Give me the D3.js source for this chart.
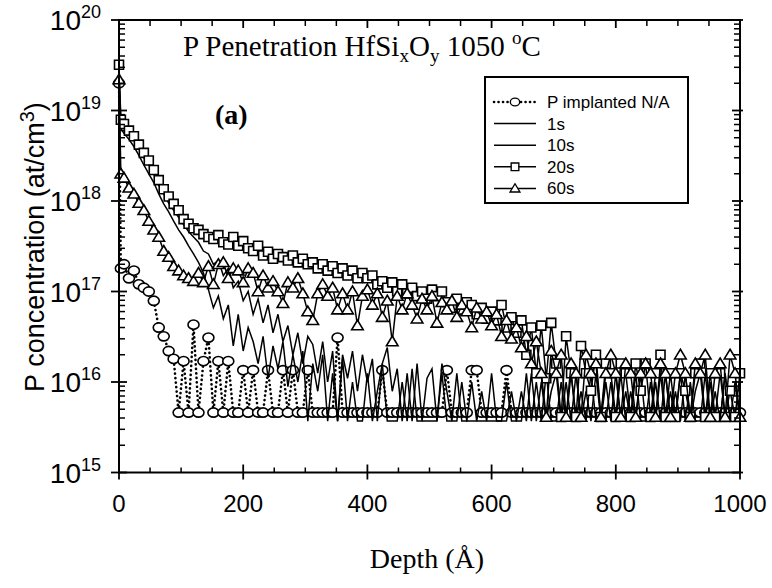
<!DOCTYPE html>
<html>
<head>
<meta charset="utf-8">
<script src="https://cdn.jsdelivr.net/npm/d3@7"></script>
<style>
  body { margin: 0; background: #fff; }
  svg { display: block; }
  .sans { font-family: Arial, "Liberation Sans", sans-serif; }
  .serif { font-family: "Times New Roman", "Liberation Serif", serif; }
</style>
</head>
<body>
<svg id="chart" width="772" height="588"></svg>
<script>
// Sputter depth of each SIMS data point (Å)
const depth = [
  0, 3, 8, 16, 24, 32, 40, 48, 56, 64,
  72, 80, 88, 96, 104, 112, 120, 128, 136, 144,
  152, 160, 168, 176, 184, 192, 200, 208, 216, 224,
  232, 240, 248, 256, 264, 272, 280, 288, 296, 304,
  312, 320, 328, 336, 344, 352, 360, 368, 376, 384,
  392, 400, 408, 416, 424, 432, 440, 448, 456, 464,
  472, 480, 488, 496, 504, 512, 520, 528, 536, 544,
  552, 560, 568, 576, 584, 592, 600, 608, 616, 624,
  632, 640, 648, 656, 664, 672, 680, 688, 696, 704,
  712, 720, 728, 736, 744, 752, 760, 768, 776, 784,
  792, 800, 808, 816, 824, 832, 840, 848, 856, 864,
  872, 880, 888, 896, 904, 912, 920, 928, 936, 944,
  952, 960, 968, 976, 984, 992, 1000
];

// P concentration (at/cm^3) — as implanted, no anneal
const implanted = [
  2.0e19, 1.8e17, 2.0e17, 1.4e17, 1.7e17, 1.2e17, 1.1e17, 1.0e17, 7.9e16, 4.0e16,
  3.2e16, 2.2e16, 1.8e16, 4.6e15, 1.7e16, 4.6e15, 4.3e16, 4.6e15, 1.7e16, 3.1e16,
  4.6e15, 1.7e16, 4.6e15, 1.7e16, 4.6e15, 4.6e15, 1.35e16, 4.6e15, 1.35e16, 4.6e15,
  4.6e15, 1.35e16, 4.6e15, 4.6e15, 1.35e16, 4.6e15, 1.35e16, 4.6e15, 4.6e15, 1.35e16,
  4.6e15, 4.6e15, 4.6e15, 4.6e15, 4.6e15, 3.1e16, 4.6e15, 4.6e15, 4.6e15, 4.6e15,
  4.6e15, 4.6e15, 4.6e15, 4.6e15, 1.35e16, 4.6e15, 4.6e15, 4.6e15, 4.6e15, 4.6e15,
  4.6e15, 4.6e15, 4.6e15, 4.6e15, 4.6e15, 4.6e15, 4.6e15, 1.35e16, 4.6e15, 4.6e15,
  4.6e15, 4.6e15, 1.35e16, 1.35e16, 4.6e15, 4.6e15, 4.6e15, 4.6e15, 4.6e15, 1.35e16,
  4.6e15, 4.6e15, 4.6e15, 4.6e15, 4.6e15, 4.6e15, 4.6e15, 4.6e15, 4.6e15, 4.6e15,
  4.6e15, 4.6e15, 4.6e15, 4.6e15, 4.6e15, 4.6e15, 4.6e15, 4.6e15, 4.6e15, 4.6e15,
  4.6e15, 4.6e15, 4.6e15, 4.6e15, 4.6e15, 4.6e15, 4.6e15, 4.6e15, 4.6e15, 4.6e15,
  4.6e15, 4.6e15, 4.6e15, 4.6e15, 4.6e15, 4.6e15, 4.6e15, 4.6e15, 4.6e15, 4.6e15,
  4.6e15, 4.6e15, 4.6e15, 4.6e15, 4.6e15, 4.6e15, 4.6e15
];

// 1050 °C anneal, 1 s
const anneal1s = [
  2.0e19, 6.3e18, 5.6e18, 4.8e18, 4.0e18, 3.2e18, 2.5e18, 2.0e18, 1.6e18, 1.2e18,
  9.3e17, 7.6e17, 6.0e17, 4.8e17, 4.0e17, 3.2e17, 2.6e17, 2.1e17, 1.6e17, 1.05e17,
  6.6e16, 8.9e16, 5.0e16, 7.1e16, 2.5e16, 5.6e16, 2.2e16, 4.0e16, 2.8e16, 1.6e16,
  3.2e16, 1.1e16, 2.5e16, 1.4e16, 2.8e16, 8.9e15, 2.0e16, 1.0e16, 2.2e16, 3.7e15,
  1.6e16, 7.9e15, 2.0e16, 3.7e15, 1.25e16, 3.7e15, 1.8e16, 3.7e15, 1.0e16, 3.7e15,
  3.7e15, 1.25e16, 3.7e15, 7.9e15, 1.6e16, 3.7e15, 3.7e15, 3.7e15, 1.0e16, 3.7e15,
  1.4e16, 3.7e15, 3.7e15, 3.7e15, 3.7e15, 3.7e15, 1.25e16, 3.7e15, 3.7e15, 3.7e15,
  1.0e16, 3.7e15, 3.7e15, 3.7e15, 3.7e15, 3.7e15, 3.7e15, 3.7e15, 3.7e15, 3.7e15,
  7.9e15, 3.7e15, 3.7e15, 1.25e16, 3.7e15, 1.0e16, 3.7e15, 1.25e16, 3.7e15, 3.7e15,
  1.0e16, 3.7e15, 1.25e16, 3.7e15, 7.9e15, 3.7e15, 1.25e16, 3.7e15, 3.7e15, 1.0e16,
  3.7e15, 1.25e16, 3.7e15, 7.9e15, 3.7e15, 1.25e16, 3.7e15, 3.7e15, 1.0e16, 3.7e15,
  1.25e16, 3.7e15, 7.9e15, 3.7e15, 1.25e16, 3.7e15, 1.0e16, 3.7e15, 3.7e15, 1.25e16,
  3.7e15, 7.9e15, 3.7e15, 1.25e16, 3.7e15, 3.7e15, 3.7e15
];

// 1050 °C anneal, 10 s
const anneal10s = [
  2.5e19, 7.6e18, 6.6e18, 5.6e18, 4.7e18, 3.8e18, 3.0e18, 2.5e18, 2.0e18, 1.5e18,
  1.2e18, 9.5e17, 7.9e17, 6.6e17, 5.5e17, 4.6e17, 4.0e17, 3.5e17, 2.8e17, 2.6e17,
  2.0e17, 2.2e17, 1.5e17, 1.8e17, 1.1e17, 1.3e17, 7.9e16, 1.0e17, 5.6e16, 8.3e16,
  4.5e16, 7.1e16, 3.5e16, 5.6e16, 2.8e16, 4.2e16, 2.0e16, 3.5e16, 1.6e16, 3.2e16,
  2.6e16, 1.25e16, 2.8e16, 1.0e16, 2.2e16, 3.7e15, 2.0e16, 1.1e16, 2.2e16, 7.9e15,
  2.0e16, 1.0e16, 1.8e16, 3.7e15, 1.6e16, 2.4e16, 7.9e15, 1.4e16, 3.7e15, 1.25e16,
  3.7e15, 1.6e16, 3.7e15, 1.1e16, 1.4e16, 3.7e15, 1.6e16, 7.9e15, 3.7e15, 1.25e16,
  3.7e15, 3.7e15, 1.0e16, 3.7e15, 7.9e15, 3.7e15, 1.25e16, 3.7e15, 3.7e15, 1.0e16,
  3.7e15, 3.7e15, 7.9e15, 3.7e15, 1.25e16, 3.7e15, 1.0e16, 3.7e15, 7.9e15, 1.25e16,
  3.7e15, 1.0e16, 3.7e15, 1.25e16, 3.7e15, 7.9e15, 3.7e15, 1.25e16, 3.7e15, 3.7e15,
  1.0e16, 3.7e15, 1.25e16, 3.7e15, 7.9e15, 3.7e15, 1.25e16, 3.7e15, 3.7e15, 1.0e16,
  3.7e15, 1.25e16, 3.7e15, 7.9e15, 3.7e15, 1.25e16, 3.7e15, 7.9e15, 1.25e16, 3.7e15,
  1.0e16, 3.7e15, 3.7e15, 1.25e16, 3.7e15, 1.0e16, 3.7e15
];

// 1050 °C anneal, 20 s
const anneal20s = [
  3.2e19, 7.9e18, 7.1e18, 6.0e18, 5.2e18, 4.2e18, 3.4e18, 2.8e18, 2.2e18, 1.7e18,
  1.35e18, 1.12e18, 9.3e17, 7.9e17, 6.3e17, 5.6e17, 5.0e17, 4.8e17, 4.3e17, 4.0e17,
  3.8e17, 4.2e17, 3.5e17, 3.3e17, 4.0e17, 3.2e17, 3.6e17, 3.0e17, 2.8e17, 3.2e17,
  2.5e17, 2.75e17, 2.3e17, 2.6e17, 2.4e17, 2.2e17, 2.5e17, 2.1e17, 2.3e17, 2.0e17,
  2.1e17, 1.8e17, 2.0e17, 1.7e17, 1.9e17, 1.6e17, 1.8e17, 1.5e17, 1.7e17, 1.4e17,
  1.6e17, 1.4e17, 1.5e17, 1.2e17, 1.3e17, 1.1e17, 1.26e17, 1.0e17, 1.2e17, 9.5e16,
  1.1e17, 8.9e16, 1.0e17, 8.3e16, 1.05e17, 8.9e16, 1.0e17, 7.6e16, 6.6e16, 8.3e16,
  6.3e16, 7.6e16, 7.1e16, 5.6e16, 6.6e16, 5.0e16, 6.0e16, 4.8e16, 7.1e16, 4.0e16,
  5.2e16, 3.5e16, 4.8e16, 2.0e16, 4.0e16, 1.25e16, 4.2e16, 1.1e16, 4.5e16, 1.6e16,
  4.1e15, 3.2e16, 1.25e16, 4.1e15, 2.5e16, 1.25e16, 8.0e15, 2.0e16, 4.1e15, 1.6e16,
  1.25e16, 4.1e15, 1.6e16, 1.25e16, 4.1e15, 1.6e16, 8.0e15, 1.6e16, 4.1e15, 1.25e16,
  2.0e16, 4.1e15, 1.25e16, 4.1e15, 1.25e16, 8.0e15, 4.1e15, 1.25e16, 1.6e16, 4.1e15,
  1.25e16, 4.1e15, 1.25e16, 4.1e15, 8.0e15, 4.1e15, 1.25e16
];

// 1050 °C anneal, 60 s
const anneal60s = [
  2.2e19, 2.0e18, 1.8e18, 1.4e18, 1.2e18, 9.5e17, 7.9e17, 6.0e17, 4.8e17, 4.0e17,
  2.8e17, 2.4e17, 1.9e17, 1.7e17, 1.5e17, 1.4e17, 1.3e17, 1.6e17, 1.26e17, 1.9e17,
  1.2e17, 2.0e17, 2.1e17, 1.4e17, 1.8e17, 1.7e17, 1.26e17, 1.8e17, 1.6e17, 1.0e17,
  1.5e17, 1.1e17, 1.3e17, 1.0e17, 7.4e16, 1.26e17, 1.1e17, 1.4e17, 9.5e16, 6.0e16,
  4.8e16, 9.5e16, 1.2e17, 8.9e16, 1.1e17, 6.3e16, 9.5e16, 6.3e16, 1.0e17, 4.2e16,
  8.9e16, 1.05e17, 7.1e16, 9.5e16, 5.2e16, 7.9e16, 2.8e16, 8.9e16, 6.3e16, 9.5e16,
  7.1e16, 5.0e16, 8.3e16, 6.3e16, 8.9e16, 4.5e16, 7.6e16, 6.3e16, 7.9e16, 5.2e16,
  7.1e16, 6.0e16, 4.0e16, 6.6e16, 5.0e16, 6.0e16, 4.2e16, 5.6e16, 3.2e16, 4.8e16,
  3.0e16, 4.0e16, 2.4e16, 3.2e16, 1.6e16, 2.8e16, 1.25e16, 4.1e15, 2.2e16, 1.25e16,
  2.0e16, 4.1e15, 1.6e16, 1.25e16, 4.1e15, 2.0e16, 1.25e16, 1.6e16, 4.1e15, 1.25e16,
  2.0e16, 1.25e16, 4.1e15, 1.6e16, 1.25e16, 4.1e15, 1.25e16, 1.6e16, 1.25e16, 4.1e15,
  1.6e16, 1.25e16, 4.1e15, 1.25e16, 2.0e16, 1.25e16, 4.1e15, 1.6e16, 1.25e16, 2.0e16,
  4.1e15, 1.25e16, 1.6e16, 4.1e15, 2.0e16, 1.25e16, 4.1e15
];

const seriesNames = ["P implanted N/A", "1s", "10s", "20s", "60s"];
const xTickValues = [0, 200, 400, 600, 800, 1000];
const yTickExponents = [15, 16, 17, 18, 19, 20];

const svg = d3.select("#chart");
const x = d3.scaleLinear().domain([0, 1000]).range([119, 740]);
const y = d3.scaleLog().domain([1e15, 1e20]).range([472.5, 20]);

const x0 = x(0), x1 = x(1000), yb = y(1e15), yt = y(1e20);

// marker shapes, centred on the data point
const markerPath = {
  circle: "M-5.5,0a5.5,4.6 0 1,0 11,0a5.5,4.6 0 1,0 -11,0Z",
  square: "M-4.5,-4.5h9v9h-9Z",
  triangle: "M0,-5.5L5.8,4.2L-5.8,4.2Z"
};

const series = [
  { name: seriesNames[0], values: implanted, dotted: true, marker: "circle" },
  { name: seriesNames[1], values: anneal1s, dotted: false, marker: null },
  { name: seriesNames[2], values: anneal10s, dotted: false, marker: null },
  { name: seriesNames[3], values: anneal20s, dotted: false, marker: "square" },
  { name: seriesNames[4], values: anneal60s, dotted: false, marker: "triangle" }
];

const line = d3.line().x(d => x(d[0])).y(d => y(d[1]));

function styleLine(sel, dotted) {
  return sel.attr("fill", "none")
    .attr("stroke", "#000")
    .attr("stroke-width", dotted ? 2.6 : 1.5)
    .attr("stroke-dasharray", dotted ? "0.1 4.4" : null)
    .attr("stroke-linecap", dotted ? "round" : "butt");
}

const plot = svg.append("g");
series.forEach(s => {
  const pts = depth.map((d, i) => [d, s.values[i]]);
  const g = plot.append("g");
  styleLine(g.append("path").attr("d", line(pts)), s.dotted);
  if (s.marker) {
    g.selectAll("path.mk").data(pts).join("path")
      .attr("class", "mk")
      .attr("d", markerPath[s.marker])
      .attr("transform", d => `translate(${x(d[0])},${y(d[1])})`)
      .attr("fill", "#fff")
      .attr("stroke", "#000")
      .attr("stroke-width", 1.6);
  }
});

// frame
const axes = svg.append("g").attr("stroke", "#000");
axes.append("rect")
  .attr("x", x0).attr("y", yt).attr("width", x1 - x0).attr("height", yb - yt)
  .attr("fill", "none").attr("stroke-width", 2);

// x ticks (major crossing the bottom axis, minor inward; top axis inward)
const xMinor = x.ticks(25).filter(v => !xTickValues.includes(v));
xTickValues.forEach(v => {
  axes.append("line").attr("x1", x(v)).attr("x2", x(v)).attr("y1", yb + 7).attr("y2", yb - 8).attr("stroke-width", 1.8);
  axes.append("line").attr("x1", x(v)).attr("x2", x(v)).attr("y1", yt).attr("y2", yt + 8).attr("stroke-width", 1.8);
});
xMinor.forEach(v => {
  axes.append("line").attr("x1", x(v)).attr("x2", x(v)).attr("y1", yb).attr("y2", yb - 5).attr("stroke-width", 1.5);
  axes.append("line").attr("x1", x(v)).attr("x2", x(v)).attr("y1", yt).attr("y2", yt + 6).attr("stroke-width", 1.5);
});

// y ticks (log decades crossing the left axis, 2..9 minors inward)
const yMajor = yTickExponents.map(e => Math.pow(10, e));
const yMinor = y.ticks().filter(v => !yMajor.some(m => Math.abs(m - v) / m < 1e-9));
yMajor.forEach(v => {
  axes.append("line").attr("x1", x0 - 8).attr("x2", x0 + 8).attr("y1", y(v)).attr("y2", y(v)).attr("stroke-width", 1.8);
  axes.append("line").attr("x1", x1 - 8).attr("x2", x1 + 3).attr("y1", y(v)).attr("y2", y(v)).attr("stroke-width", 1.8);
});
yMinor.forEach(v => {
  axes.append("line").attr("x1", x0).attr("x2", x0 + 6).attr("y1", y(v)).attr("y2", y(v)).attr("stroke-width", 1.5);
  axes.append("line").attr("x1", x1 - 6).attr("x2", x1).attr("y1", y(v)).attr("y2", y(v)).attr("stroke-width", 1.5);
});

// x tick labels
svg.append("g").attr("class", "sans").attr("font-size", 24).attr("text-anchor", "middle")
  .selectAll("text").data(xTickValues).join("text")
  .attr("x", d => x(d)).attr("y", 512).text(d => d);

// y tick labels: 10 with the exponent raised
const yl = svg.append("g").attr("class", "sans").attr("text-anchor", "end")
  .selectAll("text").data(yTickExponents).join("text")
  .attr("x", 101).attr("y", d => y(Math.pow(10, d)) + 10).attr("font-size", 28);
yl.append("tspan").text("10");
yl.append("tspan").attr("font-size", 18).attr("dy", -12).text(d => d);

// axis titles
const yTitle = svg.append("text").attr("class", "sans").attr("font-size", 27)
  .attr("text-anchor", "middle")
  .attr("transform", "translate(44,247) rotate(-90)");
yTitle.append("tspan").text("P concentration (at/cm");
yTitle.append("tspan").attr("dy", -10).attr("font-size", 20).text("3");
yTitle.append("tspan").attr("dy", 10).text(")");

svg.append("text").attr("class", "serif").attr("font-size", 28)
  .attr("text-anchor", "middle").attr("x", 427).attr("y", 568)
  .text("Depth (Å)");

// title
const title = svg.append("text").attr("class", "serif").attr("font-size", 29)
  .attr("x", 183).attr("y", 56);
title.append("tspan").text("P Penetration HfSi");
title.append("tspan").attr("font-size", 19).attr("dy", 6).text("x");
title.append("tspan").attr("dy", -6).text("O");
title.append("tspan").attr("font-size", 19).attr("dy", 6).text("y");
title.append("tspan").attr("dy", -6).text(" 1050 ");
title.append("tspan").attr("font-size", 19).attr("dy", -12).text("o");
title.append("tspan").attr("dy", 12).text("C");

svg.append("text").attr("class", "serif").attr("font-size", 28).attr("font-weight", "bold")
  .attr("x", 215).attr("y", 124).text("(a)");

// legend
const lg = svg.append("g");
const rowY = i => 102 + i * 21.6;
lg.append("rect").attr("x", 485).attr("y", 77).attr("width", 203).attr("height", 126)
  .attr("fill", "#fff").attr("stroke", "#000").attr("stroke-width", 2);
series.forEach((s, i) => {
  const yy = rowY(i);
  styleLine(lg.append("line").attr("x1", 494).attr("x2", 536).attr("y1", yy).attr("y2", yy), s.dotted);
  if (s.marker) {
    lg.append("path").attr("d", markerPath[s.marker])
      .attr("transform", `translate(515,${yy}) scale(0.85)`)
      .attr("fill", "#fff").attr("stroke", "#000").attr("stroke-width", 1.6);
  }
  lg.append("text").attr("class", "sans").attr("font-size", 17)
    .attr("x", 547).attr("y", yy + 6).text(s.name);
});
</script>
</body>
</html>
